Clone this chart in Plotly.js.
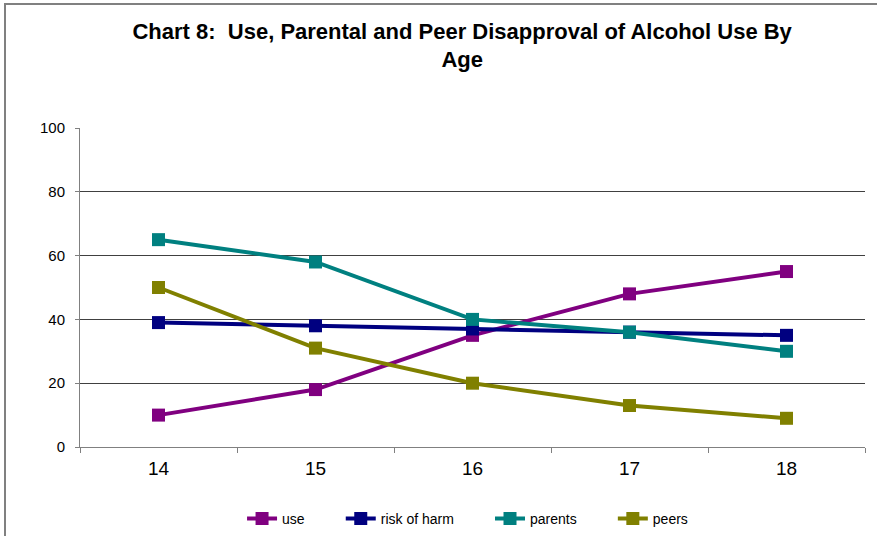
<!DOCTYPE html>
<html>
<head>
<meta charset="utf-8">
<script src="https://cdn.plot.ly/plotly-3.0.1.min.js"></script>
<style>
  html, body { margin: 0; padding: 0; background: #fff; }
  #wrap { position: relative; width: 877px; height: 536px; overflow: hidden; }
  #frame { position: absolute; left: 4px; top: 3px; width: 1000px; height: 1000px;
           border-left: 2px solid #808080; border-top: 2px solid #808080; pointer-events: none; }
  #chart { position: absolute; left: 0; top: 0; width: 877px; height: 536px; }
</style>
</head>
<body>
<div id="wrap">
  <div id="frame"></div>
  <div id="chart"></div>
</div>
<script>
const ages = ['14', '15', '16', '17', '18'];
const useVals = [10, 18, 35, 48, 55];
const riskVals = [39, 38, 37, 36, 35];
const parentVals = [65, 58, 40, 36, 30];
const peerVals = [50, 31, 20, 13, 9];
const seriesNames = ['use', 'risk of harm', 'parents', 'peers'];
const seriesColors = ['#800080', '#000080', '#008080', '#808000'];
const yTicks = [0, 20, 40, 60, 80, 100];

// extra spacing after each legend entry (non-breaking spaces)
const legendPad = [8, 8, 8, 0];

const allVals = [useVals, riskVals, parentVals, peerVals];
const traces = allVals.map((vals, i) => ({
  type: 'scatter',
  mode: 'lines+markers',
  x: ages,
  y: vals,
  name: seriesNames[i] + '\u00a0'.repeat(legendPad[i]),
  line: { color: seriesColors[i], width: 4 },
  marker: { color: seriesColors[i], symbol: 'square', size: 13 }
}));

const layout = {
  width: 877,
  height: 536,
  margin: { l: 80, r: 12, t: 128, b: 89 },
  paper_bgcolor: 'rgba(0,0,0,0)',
  plot_bgcolor: 'rgba(0,0,0,0)',
  font: { family: 'Liberation Sans, Arial, sans-serif', color: '#000' },
  title: {
    text: 'Chart 8:\u00a0 Use, Parental and Peer Disapproval of Alcohol Use By<br>Age',
    font: { size: 22, family: 'Liberation Sans, Arial, sans-serif', weight: 'bold', color: '#000' },
    x: 0.527, xanchor: 'center', xref: 'container',
    y: 0.928, yanchor: 'top', yref: 'container'
  },
  xaxis: {
    type: 'category',
    tickson: 'boundaries',
    ticks: 'outside',
    ticklen: 5,
    tickcolor: '#808080',
    showgrid: false,
    showline: true,
    linecolor: '#808080',
    linewidth: 1,
    tickfont: { size: 19 },
    ticklabelstandoff: 4,
    range: [-0.5, 4.5],
    zeroline: false
  },
  yaxis: {
    range: [0, 100],
    tickvals: yTicks,
    ticks: 'outside',
    ticklen: 4,
    tickcolor: '#808080',
    showgrid: true,
    gridcolor: '#404040',
    gridwidth: 1,
    showline: true,
    linecolor: '#808080',
    linewidth: 1,
    zeroline: false,
    tickfont: { size: 15 },
    ticklabelstandoff: 7
  },
  showlegend: true,
  legend: {
    orientation: 'h',
    xref: 'container', yref: 'container',
    x: 0.276, xanchor: 'left',
    y: 0.032, yanchor: 'middle',
    font: { size: 14 },
    bgcolor: 'rgba(0,0,0,0)'
  }
};

Plotly.newPlot('chart', traces, layout, { displayModeBar: false, staticPlot: true });
</script>
</body>
</html>
